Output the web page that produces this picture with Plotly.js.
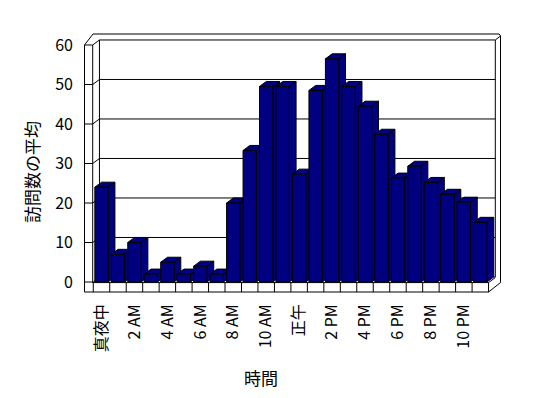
<!DOCTYPE html>
<html><head><meta charset="utf-8">
<script src="https://cdn.plot.ly/plotly-3.0.1.min.js"></script>
<style>html,body{margin:0;padding:0;background:#fff}#chart{width:548px;height:398px}</style>
</head><body><div id="chart"></div>
<script>
// ---- data ----
const categories = ['真夜中','1 AM','2 AM','3 AM','4 AM','5 AM','6 AM','7 AM','8 AM','9 AM','10 AM','11 AM',
                    '正午','1 PM','2 PM','3 PM','4 PM','5 PM','6 PM','7 PM','8 PM','9 PM','10 PM','11 PM'];
const visits = [24, 7, 10, 2, 5, 2, 4, 2, 20, 33.3, 49.5, 49.5, 27.3, 48.5, 56.5, 49.5, 44.5, 37.4, 26.3, 29.3, 25.2, 22.2, 20.2, 15.1];
const xTickLabels = ['真夜中','2 AM','4 AM','6 AM','8 AM','10 AM','正午','2 PM','4 PM','6 PM','8 PM','10 PM'];
const yTickValues = [0, 10, 20, 30, 40, 50, 60];
const yTitle = '訪問数の平均';
const xTitle = '時間';

// ---- geometry (layout) ----
const W = 548, H = 398;
const SX = 16.47, SY = 3.95, OX = 101.5, OY = 282;   // px per slot, px per unit, origin
const L = 78, R = 508, T = 28, B = 294;
const xr = [(L - OX) / SX, (R - OX) / SX];
const yr = [(OY - B) / SY, (OY - T) / SY];
const N = categories.length;
const idx = categories.map((_, i) => i);
const BW = 0.81;            // bar front width (slots)
const DX = 0.41, DY = 1.27; // depth offset in data units
const NAVY = '#000080';
const FONT = "'Noto Sans CJK JP', sans-serif";

const traces = [];
// side + top faces (one trace per bar, left to right for correct overlap)
idx.forEach(i => {
  const v = visits[i];
  const xl = i - BW / 2, xR = i + BW / 2;
  const xs = [xR, xR + DX, xR + DX, xR, xR, null, xl, xR, xR + DX, xl + DX, xl];
  const ys = [0, DY, v + DY, v, 0, null, v, v, v + DY, v + DY, v];
  traces.push({type: 'scatter', mode: 'lines', x: xs, y: ys, fill: 'toself', fillcolor: NAVY,
    line: {color: '#000', width: 1}, hoverinfo: 'skip', showlegend: false, xaxis: 'x', yaxis: 'y'});
});
// front faces as real bars on an overlaying axis pair (drawn on top)
traces.push({type: 'bar', x: idx, y: visits, width: BW, marker: {color: NAVY, line: {color: '#000', width: 1}},
  showlegend: false, xaxis: 'x2', yaxis: 'y2', name: yTitle});

// ---- frame (walls / floor) as shapes in data units ----
const x0 = -0.5, x1 = N - 0.5;
const wallIn = -0.535, wallOut = (84.5 - OX) / SX;
const floorTop = -0.15, floorBot = (OY - 292) / SY;
const topV = 60, outTop = (OY - 34) / SY, rightOut = (500.5 - OX) / SX;
const ln = {color: '#000', width: 1};
const shapes = [];
const path = pts => 'M' + pts.map(p => p[0] + ',' + p[1]).join('L');
// outer outline
shapes.push({type: 'path', layer: 'below', line: ln,
  path: path([[wallOut, floorBot], [wallOut, topV], [(93 - OX) / SX, outTop], [(499 - OX) / SX, outTop],
              [rightOut, outTop - 0.5], [rightOut, floorTop], [x1, floorBot], [wallOut, floorBot]])});
// left wall end-cap inner edge
shapes.push({type: 'path', layer: 'below', line: ln, path: path([[wallIn, floorTop], [wallIn, topV]])});
// left wall back edge & back wall inner outline
shapes.push({type: 'path', layer: 'below', line: ln,
  path: path([[wallIn, topV], [wallIn + DX, topV + DY], [x1 + DX, topV + DY], [x1 + DX, DY], [wallIn + DX, DY], [wallIn + DX, topV + DY]])});
shapes.push({type: 'path', layer: 'below', line: ln, path: path([[x1 + DX, topV + DY], [rightOut, outTop - 0.5]])});
// floor
shapes.push({type: 'path', layer: 'below', line: ln, path: path([[wallIn, floorTop], [x1, floorTop], [x1 + DX, floorTop + DY]])});
shapes.push({type: 'path', layer: 'below', line: ln, path: path([[wallIn, floorTop], [wallIn + DX, DY]])});
for (let k = 0; k <= N; k++) {
  shapes.push({type: 'line', layer: 'below', line: ln, x0: x0 + k, x1: x0 + k, y0: floorBot, y1: floorTop});
}
// value ticks on wall end-cap + gridlines on left & back walls
yTickValues.forEach(v => {
  shapes.push({type: 'line', layer: 'below', line: ln, x0: wallOut, x1: wallIn, y0: v, y1: v});
  if (v > 0 && v < topV) {
    shapes.push({type: 'path', layer: 'below', line: ln, path: path([[wallIn, v], [wallIn + DX, v + DY], [x1 + DX, v + DY]])});
  }
});

const layout = {
  width: W, height: H, paper_bgcolor: '#fff', plot_bgcolor: 'rgba(0,0,0,0)',
  margin: {l: L, r: W - R, t: T, b: H - B, pad: 0},
  font: {family: FONT, size: 16, color: '#000'},
  showlegend: false,
  xaxis: {range: xr, showgrid: false, zeroline: false, showline: false, ticks: '',
    tickvals: xTickLabels.map(t => categories.indexOf(t)), ticktext: xTickLabels,
    tickangle: -90, tickfont: {family: FONT, size: 16, color: '#000'}, ticklabelstandoff: 6},
  yaxis: {range: yr, showgrid: false, zeroline: false, showline: false, ticks: '',
    tickvals: yTickValues, ticktext: yTickValues.map(String), tickfont: {family: FONT, size: 16, color: '#000'}, ticklabelstandoff: 4},
  xaxis2: {range: xr, overlaying: 'x', visible: false, showgrid: false, zeroline: false},
  yaxis2: {range: yr, overlaying: 'y', visible: false, showgrid: false, zeroline: false},
  bargap: 0,
  shapes: shapes,
  annotations: [
    {text: yTitle, xref: 'paper', yref: 'paper', x: (31 - L) / (R - L), y: (B - 172) / (B - T),
     xanchor: 'center', yanchor: 'middle', textangle: -90, showarrow: false, font: {family: FONT, size: 17, color: '#000'}},
    {text: xTitle, xref: 'paper', yref: 'paper', x: (261 - L) / (R - L), y: (B - 377) / (B - T),
     xanchor: 'center', yanchor: 'middle', showarrow: false, font: {family: FONT, size: 17, color: '#000'}}
  ]
};
Plotly.newPlot('chart', traces, layout, {staticPlot: true, displayModeBar: false});
</script></body></html>
